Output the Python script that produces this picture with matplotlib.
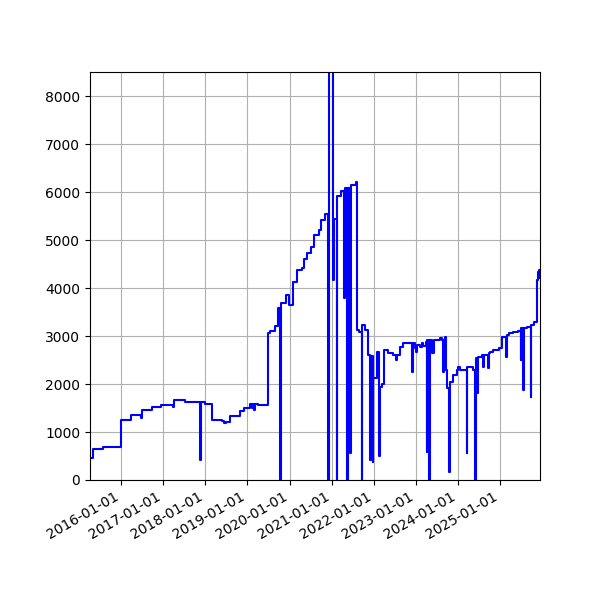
import pandas as pd
import matplotlib
matplotlib.use("Agg")
import matplotlib.pyplot as plt
import matplotlib.dates as mdates

# change dates and values
dates = [
    "2015-04-06", "2015-05-01", "2015-07-28", "2016-01-03", "2016-03-29",
    "2016-06-21", "2016-07-01", "2016-09-26", "2016-12-16", "2017-03-28",
    "2017-04-03", "2017-07-10", "2017-10-06", "2017-11-19", "2017-11-25",
    "2017-12-27", "2018-02-26", "2018-05-24", "2018-06-12", "2018-06-28",
    "2018-08-02", "2018-10-28", "2018-12-03", "2019-01-24", "2019-02-08",
    "2019-02-14", "2019-02-28", "2019-03-06", "2019-04-04", "2019-06-25",
    "2019-07-17", "2019-08-25", "2019-09-22", "2019-10-12", "2019-10-18",
    "2019-12-03", "2019-12-24", "2020-02-01", "2020-03-06", "2020-04-19",
    "2020-05-03", "2020-06-01", "2020-07-08", "2020-07-29", "2020-09-11",
    "2020-10-03", "2020-11-07", "2020-12-03", "2020-12-09", "2021-01-11",
    "2021-01-22", "2021-02-14", "2021-02-19", "2021-03-19", "2021-04-17",
    "2021-04-25", "2021-05-15", "2021-05-21", "2021-06-12", "2021-06-19",
    "2021-07-28", "2021-08-06", "2021-08-26", "2021-09-18", "2021-09-25",
    "2021-10-16", "2021-11-16", "2021-11-29", "2021-12-08", "2021-12-22",
    "2021-12-27", "2022-02-01", "2022-02-19", "2022-02-25", "2022-03-12",
    "2022-03-30", "2022-05-06", "2022-06-19", "2022-07-12", "2022-07-23",
    "2022-08-16", "2022-09-14", "2022-11-26", "2022-12-05", "2022-12-24",
    "2023-01-02", "2023-01-13", "2023-02-06", "2023-02-21", "2023-03-06",
    "2023-03-29", "2023-04-04", "2023-04-11", "2023-04-27", "2023-05-05",
    "2023-05-25", "2023-06-06", "2023-07-28", "2023-08-12", "2023-08-21",
    "2023-08-30", "2023-09-13", "2023-09-19", "2023-10-01", "2023-10-15",
    "2023-10-21", "2023-11-22", "2023-12-21", "2024-01-04", "2024-01-18",
    "2024-03-16", "2024-03-23", "2024-05-13", "2024-05-27", "2024-06-03",
    "2024-06-16", "2024-06-22", "2024-07-24", "2024-08-07", "2024-08-13",
    "2024-09-21", "2024-09-30", "2024-10-06", "2024-11-04", "2024-12-18",
    "2025-01-16", "2025-01-21", "2025-02-19", "2025-02-26", "2025-03-19",
    "2025-04-22", "2025-06-05", "2025-06-28", "2025-07-03", "2025-07-21",
    "2025-07-27", "2025-08-19", "2025-09-23", "2025-09-30", "2025-10-24",
    "2025-11-14", "2025-11-23", "2025-11-30", "2025-12-06", "2025-12-13",
]
values = [
    450, 640, 680, 1250, 1350,
    1300, 1460, 1530, 1560, 1520,
    1660, 1620, 1635, 410, 1635,
    1590, 1250, 1230, 1190, 1200,
    1333, 1444, 1507, 1576, 1500,
    1580, 1460, 1580, 1562, 3055,
    3104, 3215, 3576, 0, 3680,
    3854, 3646, 4132, 4375, 4410,
    4597, 4722, 4861, 5104, 5208,
    5417, 5541, 0, 9500, 4167,
    5430, 0, 5917, 6028, 3785,
    6076, 0, 6076, 560, 6146,
    6215, 3125, 3090, 0, 3229,
    3125, 2600, 417, 2580, 380,
    2118, 2674, 500, 1944, 2000,
    2708, 2639, 2604, 2500, 2604,
    2778, 2847, 2257, 2847, 2743,
    2674, 2812, 2780, 2847, 2800,
    2882, 590, 2917, 0, 2917,
    2639, 2917, 2951, 2917, 2257,
    2917, 2986, 2292, 1910, 174,
    2050, 2188, 2292, 2361, 2292,
    556, 2361, 2292, 0, 2535,
    1806, 2569, 2604, 2361, 2604,
    2326, 2640, 2674, 2708, 2743,
    2847, 2972, 2569, 3021, 3055,
    3090, 3110, 2500, 3160, 1875,
    3170, 3194, 1736, 3229, 3299,
    4167, 4340, 4200, 4380, 4330,
]

s = pd.Series(values, index=pd.to_datetime(dates))

fig, ax = plt.subplots(figsize=(6, 6), dpi=100)
ax.plot(s.index, s.values, color="blue", drawstyle="steps-post")
ax.set_ylim(0, 8500)
ax.set_xlim(s.index[0], s.index[-1])
ax.xaxis.set_major_locator(mdates.YearLocator())
ax.xaxis.set_major_formatter(mdates.DateFormatter("%Y-%m-%d"))
ax.grid(True)
fig.autofmt_xdate()
fig.subplots_adjust(left=0.15, right=0.9, top=0.88, bottom=0.2)

fig.savefig("out.png")
